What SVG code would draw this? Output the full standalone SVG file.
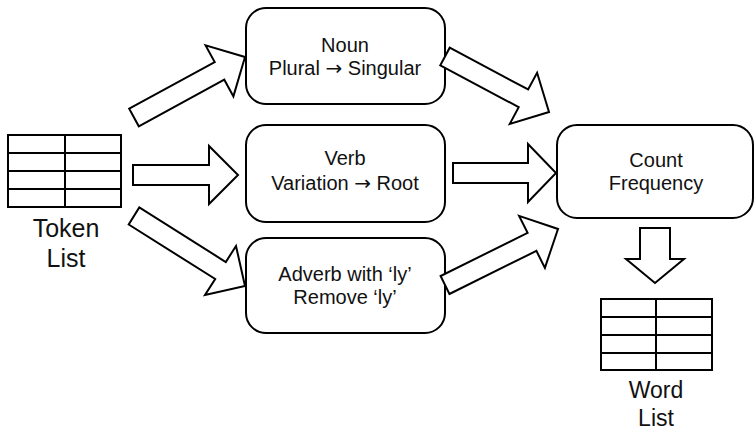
<svg xmlns="http://www.w3.org/2000/svg" width="756" height="432" viewBox="0 0 756 432">
<style>
.box{fill:#fff;stroke:#000;stroke-width:2}
.arr{fill:#fff;stroke:#000;stroke-width:2;stroke-linejoin:miter}
.tbl{fill:#fff;stroke:#000;stroke-width:2}
.ln{stroke:#000;stroke-width:2}
.t{font-family:"Liberation Sans",Arial,sans-serif;font-size:20px;fill:#111;text-anchor:middle}
.big{font-family:"Liberation Sans",Arial,sans-serif;font-size:25px;fill:#111;text-anchor:middle}
.wl{font-size:23px}
.ar{font-family:"DejaVu Sans",sans-serif;font-size:20px}
</style>
<rect width="756" height="432" fill="#fff"/>
<g id="token-list">
<rect class="tbl" x="8" y="135" width="113" height="72"/>
<line class="ln" x1="8" y1="153" x2="121" y2="153"/>
<line class="ln" x1="8" y1="171" x2="121" y2="171"/>
<line class="ln" x1="8" y1="189" x2="121" y2="189"/>
<line class="ln" x1="65" y1="135" x2="65" y2="207"/>
<text class="big" x="66" y="237">Token</text>
<text class="big" x="66" y="267">List</text>
</g>
<g id="noun">
<rect class="box" x="246" y="8" width="199" height="96" rx="20"/>
<text class="t" x="345" y="52">Noun</text>
<text class="t" x="345" y="75">Plural <tspan class="ar">→</tspan> Singular</text>
</g>
<g id="verb">
<rect class="box" x="246" y="125" width="199" height="97" rx="20"/>
<text class="t" x="345" y="165">Verb</text>
<text class="t" x="345" y="190">Variation <tspan class="ar">→</tspan> Root</text>
</g>
<g id="adverb">
<rect class="box" x="246" y="238" width="199" height="95" rx="20"/>
<text class="t" x="345" y="281">Adverb with ‘ly’</text>
<text class="t" x="345" y="304">Remove ‘ly’</text>
</g>
<g id="count">
<rect class="box" x="557" y="125" width="196" height="93" rx="20"/>
<text class="t" x="656" y="167">Count</text>
<text class="t" x="656" y="190">Frequency</text>
</g>
<g id="word-list">
<rect class="tbl" x="601" y="299" width="111" height="71"/>
<line class="ln" x1="601" y1="317" x2="712" y2="317"/>
<line class="ln" x1="601" y1="335" x2="712" y2="335"/>
<line class="ln" x1="601" y1="353" x2="712" y2="353"/>
<line class="ln" x1="656" y1="299" x2="656" y2="370"/>
<text class="big wl" x="656" y="398">Word</text>
<text class="big wl" x="656" y="426">List</text>
</g>
<g id="connectors">
<polygon class="arr" points="138.8,126.3 224.3,79.7 233.4,96.4 245,57 205.6,45.4 214.7,62.1 129.2,108.7"/>
<polygon class="arr" points="133,165 209,165 209,146 238,175 209,204 209,185 133,185"/>
<polygon class="arr" points="128.7,224.5 215.2,279 205,295 245,286 236,246 225.8,262 139.3,207.5"/>
<polygon class="arr" points="440.3,65.3 518.7,107.2 509.8,123.9 549,112 537.1,72.8 528.1,89.5 449.7,47.7"/>
<polygon class="arr" points="453,163 528,163 528,144 556,173 528,202 528,183 453,183"/>
<polygon class="arr" points="449.4,294 536.4,250.9 544.9,267.9 558,229 519.1,215.9 527.6,232.9 440.6,276"/>
<polygon class="arr" points="640,228 670,228 670,259 684,259 655,283 626,259 640,259"/>
</g>
</svg>
